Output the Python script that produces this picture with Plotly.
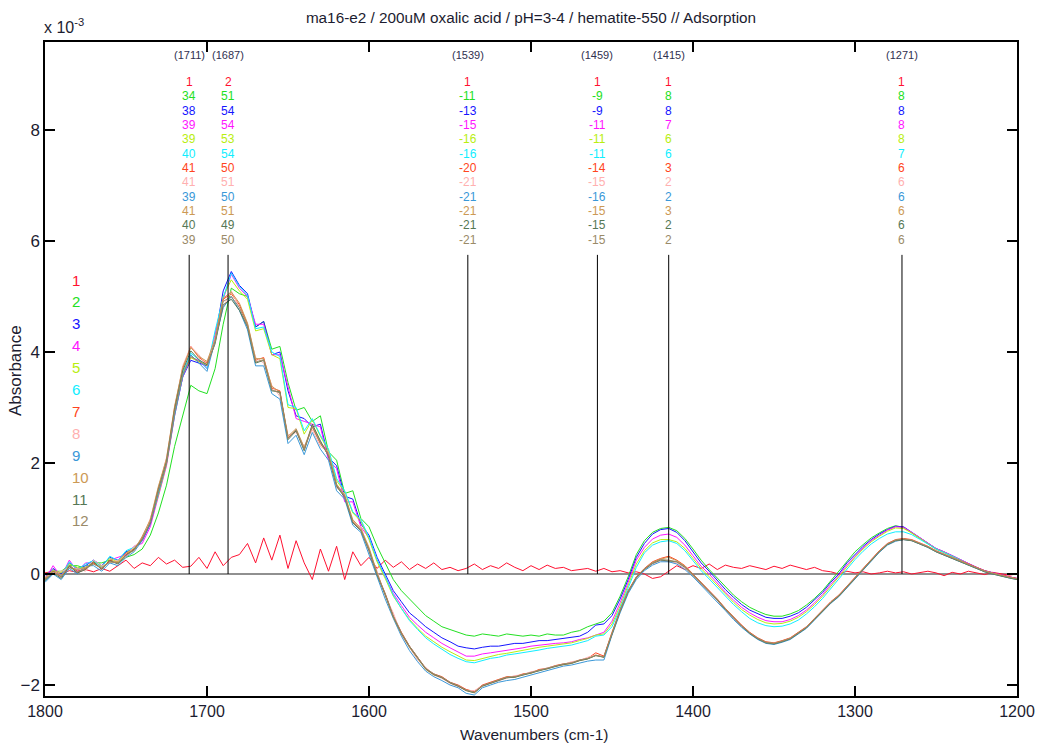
import plotly.graph_objects as go

# Wavenumber grid (cm-1), 5 cm-1 steps from 1800 down to 1200
WAVENUMBERS = list(range(1800, 1199, -5))

# Absorbance values in units of 1e-3 (rows of 10 points)
S1 = [0.02, 0.05, 0.00, 0.06, 0.03, 0.08, 0.04, 0.10, 0.05, 0.15,
      0.25, 0.10, 0.20, 0.15, 0.30, 0.18, 0.25, 0.12, 0.14, 0.30,
      0.10, 0.40, 0.15, 0.30, 0.35, 0.55, 0.20, 0.65, 0.25, 0.70,
      0.10, 0.60, 0.20, -0.10, 0.45, 0.05, 0.50, -0.10, 0.40, 0.15,
      0.30, 0.10, 0.25, 0.12, 0.22, 0.08, 0.18, 0.10, 0.20, 0.08,
      0.12, 0.06, 0.10, 0.18, 0.08, 0.15, 0.10, 0.20, 0.12, 0.06,
      0.15, 0.08, 0.16, 0.10, 0.12, 0.06, 0.08, 0.10, 0.05, 0.10,
      0.04, 0.06, 0.02, 0.04, 0.00, -0.08, -0.05, 0.05, 0.15, 0.08,
      0.15, 0.10, 0.18, 0.08, 0.16, 0.12, 0.10, 0.15, 0.12, 0.08,
      0.14, 0.10, 0.16, 0.12, 0.08, 0.12, 0.06, 0.04, 0.00, 0.05,
      0.02, 0.04, 0.00, 0.02, 0.05, 0.02, 0.04, 0.00, 0.03, 0.05,
      0.02, -0.03, 0.03, 0.00, 0.05, 0.02, -0.01, 0.03, 0.00, -0.02,
      0.00]
S2 = [0.00, 0.05, 0.05, 0.15, 0.15, 0.10, 0.20, 0.20, 0.25, 0.20,
      0.30, 0.35, 0.45, 0.70, 1.10, 1.60, 2.30, 2.85, 3.40, 3.30,
      3.25, 3.70, 4.50, 5.15, 5.05, 5.00, 4.45, 4.55, 4.05, 4.10,
      3.45, 2.95, 3.00, 2.75, 2.85, 2.20, 2.05, 1.45, 1.50, 1.00,
      0.85, 0.50, 0.20, -0.10, -0.30, -0.45, -0.60, -0.75, -0.85, -0.95,
      -1.00, -1.05, -1.10, -1.12, -1.08, -1.10, -1.12, -1.08, -1.10, -1.12,
      -1.10, -1.12, -1.08, -1.10, -1.10, -1.05, -1.02, -0.95, -0.90, -0.85,
      -0.70, -0.40, -0.05, 0.35, 0.60, 0.75, 0.82, 0.84, 0.78, 0.64,
      0.45, 0.25, 0.08, -0.08, -0.24, -0.38, -0.50, -0.60, -0.67, -0.73,
      -0.76, -0.76, -0.72, -0.66, -0.56, -0.44, -0.30, -0.12, 0.04, 0.24,
      0.40, 0.53, 0.65, 0.74, 0.82, 0.87, 0.84, 0.74, 0.64, 0.54,
      0.45, 0.39, 0.32, 0.25, 0.17, 0.11, 0.05, 0.01, -0.03, -0.06,
      -0.09]
S3 = [-0.05, 0.10, 0.00, 0.20, 0.10, 0.15, 0.25, 0.15, 0.30, 0.25,
      0.40, 0.45, 0.60, 0.90, 1.45, 2.00, 2.90, 3.55, 3.85, 3.80,
      3.75, 4.25, 5.10, 5.45, 5.20, 5.05, 4.45, 4.55, 3.95, 4.00,
      3.30, 2.85, 2.80, 2.65, 2.70, 2.10, 1.95, 1.40, 1.35, 0.90,
      0.70, 0.30, 0.00, -0.30, -0.50, -0.70, -0.82, -0.95, -1.05, -1.15,
      -1.22, -1.30, -1.33, -1.35, -1.32, -1.30, -1.30, -1.27, -1.25, -1.25,
      -1.22, -1.20, -1.20, -1.18, -1.17, -1.15, -1.12, -1.05, -0.92, -0.90,
      -0.75, -0.45, -0.10, 0.30, 0.55, 0.72, 0.80, 0.82, 0.75, 0.60,
      0.40, 0.20, 0.05, -0.12, -0.28, -0.42, -0.55, -0.65, -0.72, -0.78,
      -0.80, -0.80, -0.76, -0.70, -0.60, -0.47, -0.33, -0.15, 0.00, 0.20,
      0.36, 0.50, 0.62, 0.72, 0.80, 0.86, 0.85, 0.75, 0.65, 0.55,
      0.46, 0.40, 0.33, 0.26, 0.18, 0.12, 0.06, 0.02, -0.02, -0.05,
      -0.08]
S4 = [-0.10, 0.15, -0.05, 0.25, 0.05, 0.20, 0.20, 0.10, 0.25, 0.30,
      0.35, 0.50, 0.55, 0.85, 1.40, 1.95, 2.85, 3.55, 3.90, 3.85,
      3.70, 4.30, 4.95, 5.40, 5.15, 5.00, 4.50, 4.50, 3.95, 3.95,
      3.35, 2.80, 2.75, 2.70, 2.65, 2.05, 1.90, 1.30, 1.30, 0.85,
      0.65, 0.25, -0.05, -0.35, -0.57, -0.78, -0.92, -1.05, -1.15, -1.25,
      -1.33, -1.40, -1.48, -1.48, -1.44, -1.42, -1.40, -1.37, -1.35, -1.33,
      -1.30, -1.28, -1.27, -1.25, -1.24, -1.22, -1.18, -1.15, -1.10, -1.05,
      -0.85, -0.52, -0.15, 0.25, 0.48, 0.63, 0.70, 0.72, 0.66, 0.52,
      0.33, 0.14, 0.00, -0.17, -0.33, -0.47, -0.60, -0.70, -0.78, -0.84,
      -0.86, -0.86, -0.82, -0.75, -0.65, -0.52, -0.37, -0.19, -0.03, 0.16,
      0.32, 0.47, 0.60, 0.70, 0.79, 0.85, 0.84, 0.75, 0.65, 0.55,
      0.46, 0.40, 0.33, 0.26, 0.18, 0.12, 0.06, 0.02, -0.02, -0.05,
      -0.08]
S5 = [-0.08, 0.06, 0.02, 0.18, 0.12, 0.12, 0.22, 0.14, 0.28, 0.22,
      0.38, 0.46, 0.62, 0.92, 1.42, 1.98, 2.88, 3.58, 3.90, 3.82,
      3.78, 4.22, 5.00, 5.30, 5.10, 4.95, 4.38, 4.42, 3.95, 3.88,
      3.00, 2.98, 2.52, 2.78, 2.48, 2.22, 1.68, 1.48, 1.10, 0.95,
      0.62, 0.22, -0.08, -0.40, -0.62, -0.82, -0.98, -1.12, -1.22, -1.32,
      -1.40, -1.48, -1.55, -1.56, -1.52, -1.48, -1.45, -1.43, -1.40, -1.38,
      -1.35, -1.32, -1.30, -1.28, -1.26, -1.24, -1.20, -1.16, -1.10, -1.08,
      -0.90, -0.58, -0.20, 0.18, 0.42, 0.56, 0.62, 0.62, 0.58, 0.46,
      0.28, 0.10, -0.05, -0.21, -0.37, -0.51, -0.64, -0.74, -0.82, -0.88,
      -0.90, -0.89, -0.85, -0.78, -0.68, -0.55, -0.40, -0.22, -0.06, 0.13,
      0.30, 0.45, 0.58, 0.68, 0.77, 0.83, 0.82, 0.74, 0.64, 0.54,
      0.45, 0.39, 0.32, 0.25, 0.17, 0.11, 0.05, 0.01, -0.03, -0.06,
      -0.09]
S6 = [-0.12, 0.08, -0.04, 0.22, 0.08, 0.18, 0.24, 0.12, 0.32, 0.24,
      0.42, 0.48, 0.64, 0.94, 1.48, 2.04, 2.94, 3.62, 3.98, 3.86,
      3.70, 4.38, 4.98, 5.42, 5.18, 5.02, 4.42, 4.45, 4.00, 3.92,
      3.05, 3.00, 2.58, 2.80, 2.50, 2.25, 1.72, 1.50, 1.12, 0.98,
      0.66, 0.26, -0.04, -0.38, -0.62, -0.84, -1.00, -1.15, -1.26, -1.36,
      -1.45, -1.52, -1.58, -1.60, -1.56, -1.52, -1.50, -1.46, -1.44, -1.42,
      -1.40, -1.37, -1.34, -1.32, -1.30, -1.28, -1.24, -1.20, -1.12, -1.10,
      -0.95, -0.62, -0.25, 0.12, 0.38, 0.52, 0.58, 0.60, 0.55, 0.42,
      0.24, 0.06, -0.09, -0.25, -0.41, -0.55, -0.68, -0.80, -0.88, -0.93,
      -0.95, -0.94, -0.90, -0.83, -0.72, -0.59, -0.44, -0.26, -0.10, 0.09,
      0.26, 0.41, 0.54, 0.64, 0.72, 0.76, 0.76, 0.71, 0.63, 0.54,
      0.45, 0.39, 0.32, 0.25, 0.17, 0.11, 0.05, 0.01, -0.03, -0.06,
      -0.09]
S7 = [-0.10, 0.05, -0.05, 0.15, 0.05, 0.10, 0.20, 0.10, 0.25, 0.20,
      0.35, 0.45, 0.65, 0.95, 1.55, 2.05, 3.00, 3.70, 4.10, 3.90,
      3.80, 4.20, 4.95, 5.05, 4.85, 4.50, 3.85, 3.90, 3.35, 3.30,
      2.45, 2.60, 2.25, 2.65, 2.35, 2.15, 1.60, 1.40, 0.95, 0.80,
      0.45, 0.00, -0.35, -0.75, -1.05, -1.30, -1.50, -1.70, -1.80, -1.85,
      -1.95, -2.00, -2.08, -2.12, -2.00, -1.95, -1.90, -1.85, -1.85, -1.80,
      -1.78, -1.72, -1.70, -1.65, -1.62, -1.60, -1.55, -1.52, -1.42, -1.48,
      -1.05, -0.65, -0.30, -0.05, 0.10, 0.22, 0.28, 0.32, 0.25, 0.15,
      0.00, -0.15, -0.30, -0.45, -0.62, -0.78, -0.92, -1.05, -1.15, -1.22,
      -1.24, -1.20, -1.15, -1.05, -0.95, -0.80, -0.65, -0.50, -0.38, -0.22,
      -0.05, 0.12, 0.28, 0.42, 0.55, 0.62, 0.64, 0.62, 0.56, 0.50,
      0.42, 0.36, 0.30, 0.24, 0.18, 0.12, 0.06, 0.02, -0.02, -0.05,
      -0.08]
S8 = [-0.05, 0.00, 0.05, 0.10, 0.10, 0.05, 0.25, 0.15, 0.20, 0.25,
      0.30, 0.50, 0.60, 1.00, 1.50, 2.10, 2.95, 3.75, 4.10, 3.95,
      3.75, 4.25, 4.80, 5.10, 4.80, 4.45, 3.90, 3.80, 3.40, 3.20,
      2.50, 2.55, 2.30, 2.60, 2.30, 2.20, 1.55, 1.45, 0.92, 0.85,
      0.40, 0.05, -0.40, -0.70, -1.10, -1.32, -1.55, -1.68, -1.82, -1.88,
      -1.97, -2.03, -2.10, -2.10, -2.02, -1.97, -1.92, -1.88, -1.83, -1.82,
      -1.76, -1.74, -1.69, -1.66, -1.63, -1.58, -1.56, -1.50, -1.46, -1.50,
      -1.08, -0.68, -0.32, -0.08, 0.08, 0.18, 0.24, 0.22, 0.20, 0.10,
      -0.03, -0.18, -0.33, -0.48, -0.65, -0.80, -0.95, -1.07, -1.17, -1.24,
      -1.25, -1.22, -1.16, -1.07, -0.96, -0.82, -0.66, -0.52, -0.40, -0.24,
      -0.07, 0.10, 0.26, 0.40, 0.53, 0.60, 0.62, 0.60, 0.55, 0.49,
      0.41, 0.35, 0.29, 0.23, 0.17, 0.11, 0.05, 0.01, -0.03, -0.06,
      -0.09]
S9 = [-0.15, 0.00, -0.10, 0.10, 0.00, 0.15, 0.15, 0.05, 0.20, 0.15,
      0.30, 0.40, 0.60, 0.90, 1.45, 2.00, 2.85, 3.55, 3.95, 3.80,
      3.65, 4.20, 4.80, 5.00, 4.75, 4.40, 3.75, 3.75, 3.25, 3.15,
      2.35, 2.50, 2.15, 2.55, 2.25, 2.05, 1.50, 1.35, 0.88, 0.75,
      0.35, -0.05, -0.45, -0.80, -1.12, -1.38, -1.58, -1.75, -1.85, -1.92,
      -2.00, -2.05, -2.15, -2.18, -2.05, -2.00, -1.95, -1.92, -1.90, -1.86,
      -1.82, -1.77, -1.74, -1.70, -1.66, -1.64, -1.60, -1.57, -1.55, -1.55,
      -1.10, -0.70, -0.35, -0.10, 0.06, 0.16, 0.22, 0.22, 0.18, 0.08,
      -0.05, -0.20, -0.35, -0.50, -0.66, -0.82, -0.96, -1.08, -1.18, -1.25,
      -1.27, -1.23, -1.18, -1.08, -0.98, -0.83, -0.68, -0.53, -0.41, -0.25,
      -0.08, 0.09, 0.25, 0.39, 0.52, 0.59, 0.62, 0.60, 0.54, 0.48,
      0.40, 0.34, 0.28, 0.22, 0.16, 0.10, 0.04, 0.00, -0.04, -0.07,
      -0.10]
S10 = [-0.08, 0.08, -0.02, 0.12, 0.08, 0.12, 0.18, 0.12, 0.22, 0.22,
       0.38, 0.42, 0.68, 0.98, 1.58, 2.08, 3.02, 3.72, 4.08, 3.92,
       3.83, 4.23, 4.97, 5.08, 4.88, 4.52, 3.88, 3.88, 3.38, 3.28,
       2.48, 2.62, 2.28, 2.68, 2.38, 2.18, 1.62, 1.42, 0.98, 0.82,
       0.48, 0.02, -0.38, -0.78, -1.08, -1.32, -1.52, -1.72, -1.82, -1.86,
       -1.96, -2.02, -2.10, -2.14, -2.02, -1.96, -1.91, -1.86, -1.86, -1.81,
       -1.79, -1.73, -1.71, -1.66, -1.63, -1.61, -1.56, -1.53, -1.46, -1.50,
       -1.06, -0.66, -0.31, -0.06, 0.09, 0.21, 0.27, 0.30, 0.24, 0.14,
       -0.01, -0.16, -0.31, -0.46, -0.63, -0.79, -0.93, -1.06, -1.16, -1.23,
       -1.25, -1.21, -1.16, -1.06, -0.96, -0.81, -0.66, -0.51, -0.39, -0.23,
       -0.06, 0.11, 0.27, 0.41, 0.54, 0.61, 0.63, 0.61, 0.55, 0.49,
       0.41, 0.35, 0.29, 0.23, 0.17, 0.11, 0.05, 0.01, -0.03, -0.06,
       -0.09]
S11 = [-0.12, 0.02, -0.08, 0.14, 0.02, 0.08, 0.22, 0.08, 0.24, 0.18,
       0.34, 0.44, 0.62, 0.92, 1.52, 2.02, 2.96, 3.66, 4.02, 3.86,
       3.77, 4.15, 4.85, 4.95, 4.75, 4.45, 3.80, 3.85, 3.30, 3.28,
       2.42, 2.58, 2.22, 2.70, 2.40, 2.12, 1.58, 1.38, 0.92, 0.78,
       0.42, -0.02, -0.37, -0.77, -1.07, -1.31, -1.51, -1.71, -1.81, -1.87,
       -1.96, -2.02, -2.10, -2.14, -2.02, -1.97, -1.91, -1.87, -1.86, -1.82,
       -1.79, -1.74, -1.71, -1.66, -1.63, -1.61, -1.56, -1.53, -1.47, -1.50,
       -1.07, -0.67, -0.32, -0.07, 0.08, 0.19, 0.25, 0.24, 0.22, 0.12,
       -0.02, -0.17, -0.32, -0.47, -0.64, -0.80, -0.94, -1.07, -1.17, -1.24,
       -1.26, -1.22, -1.17, -1.07, -0.97, -0.82, -0.67, -0.52, -0.40, -0.24,
       -0.07, 0.10, 0.26, 0.40, 0.53, 0.60, 0.62, 0.60, 0.54, 0.48,
       0.40, 0.34, 0.28, 0.22, 0.16, 0.10, 0.04, 0.00, -0.04, -0.07,
       -0.10]
S12 = [-0.10, 0.04, -0.06, 0.16, 0.04, 0.10, 0.18, 0.10, 0.22, 0.20,
       0.33, 0.43, 0.63, 0.93, 1.50, 2.00, 2.92, 3.60, 3.92, 3.84,
       3.75, 4.17, 4.91, 5.00, 4.80, 4.48, 3.82, 3.86, 3.32, 3.26,
       2.44, 2.60, 2.24, 2.66, 2.36, 2.14, 1.60, 1.40, 0.94, 0.79,
       0.44, 0.00, -0.36, -0.76, -1.06, -1.30, -1.50, -1.70, -1.80, -1.86,
       -1.95, -2.01, -2.09, -2.13, -2.01, -1.96, -1.90, -1.86, -1.85, -1.81,
       -1.78, -1.73, -1.70, -1.65, -1.62, -1.60, -1.55, -1.52, -1.47, -1.49,
       -1.06, -0.66, -0.31, -0.06, 0.09, 0.20, 0.26, 0.25, 0.22, 0.13,
       -0.01, -0.16, -0.31, -0.46, -0.63, -0.79, -0.93, -1.06, -1.16, -1.23,
       -1.25, -1.21, -1.16, -1.06, -0.96, -0.81, -0.66, -0.51, -0.39, -0.23,
       -0.06, 0.11, 0.27, 0.41, 0.54, 0.61, 0.63, 0.61, 0.55, 0.49,
       0.41, 0.35, 0.29, 0.23, 0.17, 0.11, 0.05, 0.01, -0.03, -0.06,
       -0.09]

SERIES = [S1, S2, S3, S4, S5, S6, S7, S8, S9, S10, S11, S12]
SERIES_NAMES = [str(i) for i in range(1, 13)]
COLORS = ["#ff1030", "#22e022", "#1515ff", "#ff15ff", "#b8ee10", "#10eeff",
          "#ff4420", "#ffb0b0", "#3a98d8", "#cc9955", "#557755", "#9a8a68"]

# Marked peak positions and the value table printed above each one (x 1e-4)
PEAKS = [1711, 1687, 1539, 1459, 1415, 1271]
PEAK_VALUES = [
    [1, 34, 38, 39, 39, 40, 41, 41, 39, 41, 40, 39],
    [2, 51, 54, 54, 53, 54, 50, 51, 50, 51, 49, 50],
    [1, -11, -13, -15, -16, -16, -20, -21, -21, -21, -21, -21],
    [1, -9, -9, -11, -11, -11, -14, -15, -16, -15, -15, -15],
    [1, 8, 8, 7, 6, 6, 3, 2, 2, 3, 2, 2],
    [1, 8, 8, 8, 8, 7, 6, 6, 6, 6, 6, 6],
]
PEAK_LINE_TOP = 5.75

X_TICKS = [1800, 1700, 1600, 1500, 1400, 1300, 1200]
Y_TICKS = [-2, 0, 2, 4, 6, 8]

FONT = "Liberation Sans Narrow, Arial Narrow, Liberation Sans, Arial, sans-serif"
TXT = "#1c1c30"

fig = go.Figure()
for name, vals, col in zip(SERIES_NAMES, SERIES, COLORS):
    fig.add_trace(go.Scatter(x=WAVENUMBERS, y=vals, mode="lines", name=name,
                             line=dict(color=col, width=1), hoverinfo="skip"))

# Plot area in pixels: left 45, right 1017, top 42, bottom 696
def py2paper(py):
    return (696 - py) / 654.0

def px2paper(px):
    return (px - 45) / 972.0

shapes = []
annotations = []
for pk, vals in zip(PEAKS, PEAK_VALUES):
    shapes.append(dict(type="line", xref="x", yref="y", x0=pk, x1=pk, y0=0, y1=PEAK_LINE_TOP,
                       line=dict(color="black", width=1)))
    annotations.append(dict(x=pk, xref="x", y=py2paper(55), yref="paper", text=f"({pk})",
                            showarrow=False, font=dict(family=FONT, size=11, color="#303050"),
                            xanchor="center", yanchor="middle"))
    for i, v in enumerate(vals):
        annotations.append(dict(x=pk, xref="x", y=py2paper(82 + 14.35 * i), yref="paper",
                                text=str(v), showarrow=False,
                                font=dict(family=FONT, size=12, color=COLORS[i]),
                                xanchor="center", yanchor="middle"))

# legend of series numbers
for i, (name, col) in enumerate(zip(SERIES_NAMES, COLORS)):
    annotations.append(dict(x=px2paper(70), xref="paper", y=py2paper(280 + 21.9 * i), yref="paper",
                            text=name, showarrow=False, font=dict(family=FONT, size=15, color=col),
                            xanchor="left", yanchor="middle"))

annotations.append(dict(x=px2paper(42), xref="paper", y=py2paper(26), yref="paper",
                        text="x 10<sup>-3</sup>",
                        showarrow=False, font=dict(family=FONT, size=16, color=TXT),
                        xanchor="left", yanchor="middle"))
# axis titles
annotations.append(dict(x=px2paper(15), xref="paper", y=py2paper(371), yref="paper",
                        text="Absorbance", textangle=-90, showarrow=False,
                        font=dict(family=FONT, size=17, color=TXT),
                        xanchor="center", yanchor="middle"))
annotations.append(dict(x=px2paper(534), xref="paper", y=py2paper(734), yref="paper",
                        text="Wavenumbers (cm-1)", showarrow=False,
                        font=dict(family=FONT, size=15.5, color=TXT),
                        xanchor="center", yanchor="middle"))

fig.update_layout(
    width=1037, height=747,
    margin=dict(l=45, r=20, t=42, b=51, autoexpand=False),
    paper_bgcolor="white", plot_bgcolor="white",
    showlegend=False,
    shapes=shapes, annotations=annotations,
    title=dict(text="ma16-e2 / 200uM oxalic acid / pH=3-4 / hematite-550 // Adsorption",
               x=531 / 1037, xref="container", y=1 - 18 / 747, yref="container",
               xanchor="center", yanchor="middle",
               font=dict(family=FONT, size=15.3, color=TXT)),
    font=dict(family=FONT, color=TXT),
)
fig.update_xaxes(range=[1800, 1200], tickvals=X_TICKS, ticks="inside", ticklen=10, tickwidth=1.5,
                 tickcolor="black", showline=True, linecolor="black", linewidth=1.5, mirror="ticks",
                 showgrid=False, zeroline=False, automargin=False,
                 tickfont=dict(family=FONT, size=16, color=TXT))
fig.update_yaxes(range=[-2.198, 9.585], tickvals=Y_TICKS, ticks="inside", ticklen=10, tickwidth=1.5,
                 tickcolor="black", showline=True, linecolor="black", linewidth=1.5, mirror="ticks",
                 showgrid=False, zeroline=True, zerolinecolor="#909090", zerolinewidth=2,
                 automargin=False, tickfont=dict(family=FONT, size=17, color=TXT))

fig.write_html("out.html")
